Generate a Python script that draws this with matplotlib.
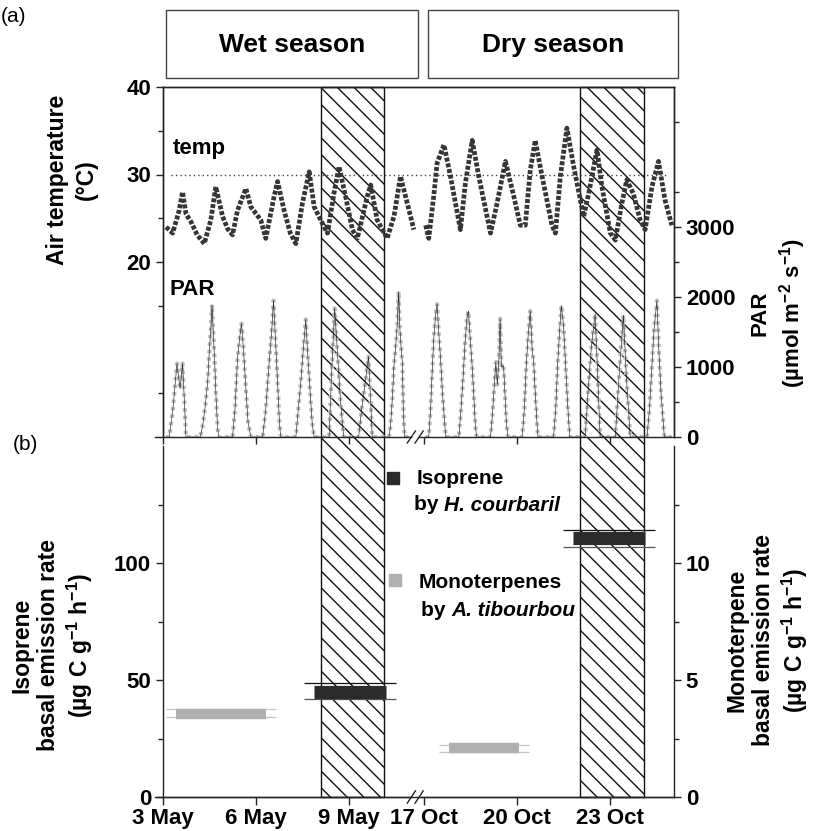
import matplotlib
matplotlib.use('Agg')
import matplotlib.pyplot as plt
import matplotlib.transforms as mtransforms
from matplotlib.patches import Rectangle
import numpy as np

plt.rcParams['font.family'] = ['Liberation Sans', 'DejaVu Sans']
plt.rcParams['font.weight'] = 'bold'
plt.rcParams['axes.labelweight'] = 'bold'
plt.rcParams['mathtext.fontset'] = 'custom'
plt.rcParams['mathtext.rm'] = 'Liberation Sans:bold'
plt.rcParams['mathtext.bf'] = 'Liberation Sans:bold'
plt.rcParams['mathtext.default'] = 'bf'
plt.rcParams['hatch.linewidth'] = 1.0

# ---- data (time = decimal day of month) ----
temp_may_t = [3.10, 3.31, 3.45, 3.52, 3.63, 3.74, 3.90, 4.10, 4.33, 4.54, 4.70, 4.92,
              5.08, 5.24, 5.40, 5.67, 5.83, 6.15, 6.31, 6.58, 6.69, 6.90, 7.10, 7.28,
              7.49, 7.71, 7.87, 8.19, 8.30, 8.51, 8.67, 8.88, 9.10, 9.26, 9.58, 9.69,
              9.90, 10.22, 10.44, 10.65, 10.87, 11.08]
temp_may = [24.0, 23.3, 25.0, 25.9, 28.0, 25.5, 24.6, 23.1, 22.1, 24.8, 28.6, 25.2,
            23.8, 23.1, 25.9, 28.4, 26.3, 24.8, 22.7, 27.5, 29.2, 25.9, 23.3, 22.1,
            26.7, 30.3, 26.3, 24.0, 23.3, 27.9, 30.9, 27.5, 23.7, 22.7, 27.5, 28.8,
            24.8, 22.7, 25.2, 29.8, 26.7, 23.7]
temp_oct_t = [17.06, 17.16, 17.32, 17.43, 17.65, 17.86, 18.18, 18.34, 18.56, 18.77,
              19.15, 19.36, 19.63, 19.90, 20.11, 20.27, 20.43, 20.59, 20.81, 21.13,
              21.24, 21.40, 21.61, 21.83, 22.15, 22.31, 22.58, 22.74, 23.01, 23.17,
              23.38, 23.54, 23.75, 23.97, 24.13, 24.35, 24.56, 24.77, 24.99]
temp_oct = [24.2, 22.7, 27.5, 31.3, 33.4, 29.8, 23.7, 29.0, 33.9, 29.8,
            23.3, 26.7, 31.5, 27.5, 24.2, 24.2, 30.5, 33.9, 29.8, 24.2,
            23.3, 29.8, 35.3, 30.9, 25.2, 27.8, 32.8, 28.6, 23.3, 22.5,
            26.7, 29.4, 27.8, 24.8, 23.7, 28.6, 31.5, 27.1, 24.2]

par_may_t = [3.10, 3.20, 3.32, 3.45, 3.55, 3.63, 3.69, 3.74,
             4.20, 4.28, 4.35, 4.44, 4.49, 4.54, 4.58, 4.62, 4.67, 4.71, 4.76, 4.80,
             5.24, 5.32, 5.40, 5.49, 5.53, 5.59, 5.67, 5.74, 5.83,
             6.21, 6.31, 6.42, 6.50, 6.56, 6.61, 6.69, 6.75, 6.79,
             7.28, 7.35, 7.44, 7.52, 7.60, 7.65, 7.74, 7.81, 7.87,
             8.35, 8.43, 8.53, 8.62, 8.72, 8.82,
             9.30, 9.40, 9.52, 9.62, 9.68, 9.74,
             10.28, 10.33, 10.39, 10.44, 10.49, 10.55, 10.59, 10.63, 10.68, 10.71,
             10.74, 10.78, 11.05]
par_may = [0, 0, 400, 1050, 690, 1050, 500, 0,
           0, 170, 400, 790, 1210, 1550, 1890, 1500, 1020, 550, 120, 0,
           0, 400, 1120, 1500, 1620, 1260, 690, 210, 0,
           0, 400, 1070, 1500, 1950, 1500, 790, 210, 0,
           0, 360, 790, 1260, 1680, 1260, 640, 170, 0,
           0, 900, 1840, 1200, 500, 0,
           0, 400, 800, 1150, 600, 0,
           0, 170, 570, 1020, 1260, 1640, 2080, 1550, 1210, 1070,
           400, 0, 0]
par_oct_t = [17.06, 17.16, 17.22, 17.27, 17.32, 17.38, 17.43, 17.48, 17.54, 17.60, 17.67, 17.71,
             18.13, 18.20, 18.27, 18.33, 18.40, 18.44, 18.48, 18.55, 18.61, 18.66, 18.70,
             19.15, 19.21, 19.28, 19.32, 19.37, 19.42, 19.46, 19.50, 19.57, 19.66, 19.71,
             20.17, 20.24, 20.30, 20.37, 20.43, 20.49, 20.54, 20.59, 20.65, 20.68,
             21.18, 21.25, 21.31, 21.38, 21.43, 21.50, 21.57, 21.63, 21.70,
             22.20, 22.30, 22.40, 22.52, 22.60, 22.68,
             23.17, 23.28, 23.43, 23.52, 23.65,
             24.19, 24.27, 24.35, 24.42, 24.51, 24.57, 24.64, 24.72, 24.75, 24.99]
par_oct = [0, 0, 400, 930, 1400, 1740, 1900, 1500, 1120, 640, 210, 0,
           0, 400, 880, 1360, 1740, 1800, 1500, 1070, 600, 170, 0,
           0, 310, 790, 1070, 750, 1120, 1690, 1000, 1020, 210, 0,
           0, 400, 1020, 1500, 1800, 1260, 1070, 640, 170, 0,
           0, 400, 1020, 1550, 1880, 1600, 1020, 500, 0,
           0, 700, 1300, 1760, 900, 0,
           0, 800, 1740, 900, 0,
           0, 400, 1020, 1550, 1950, 1260, 640, 170, 0, 0]

# hatched periods
shade_month = ['May', 'Oct']
shade_start = [8.08, 22.04]
shade_end = [10.11, 24.10]

# basal emission rates
iso_month = ['May', 'Oct']
iso_start = [7.86, 21.81]
iso_end = [10.17, 24.13]
iso_rate = [45.0, 111.0]
iso_hi = [48.6, 114.4]
iso_lo = [41.8, 107.0]

mono_month = ['May', 'Oct']
mono_start = [3.42, 17.81]
mono_end = [6.31, 20.06]
mono_rate = [3.57, 2.08]
mono_hi = [3.75, 2.22]
mono_lo = [3.43, 1.94]

tick_days = [3, 6, 9, 17, 20, 23]
tick_months = ['May', 'May', 'May', 'Oct', 'Oct', 'Oct']

# broken time axis: 3 May -> 0, 17 Oct -> 8.4
OCT_AT = 8.4
XMAX = 16.46
BRK = (8.0, 8.25)
TICK_FS = 16


def xpos(day, month):
    day = np.asarray(day, dtype=float)
    if month == 'May':
        return day - 3.0
    return day - 17.0 + OCT_AT


def fx(px):
    return px / 814.0


def fy(py):
    return 1.0 - py / 831.0


fig = plt.figure(figsize=(8.14, 8.31), dpi=100)
ax_t = fig.add_axes([fx(163), fy(437), fx(674) - fx(163), fy(87) - fy(437)])
ax_b = fig.add_axes([fx(163), fy(797), fx(674) - fx(163), fy(437) - fy(797)])
ax_p = ax_t.twinx()
ax_m = ax_b.twinx()
for a in (ax_t, ax_b, ax_p, ax_m):
    a.set_facecolor('none')
    a.set_xlim(0, XMAX)
    for s in a.spines.values():
        s.set_linewidth(1.0)
        s.set_color('#222222')
    a.tick_params(direction='out', width=1.0, length=5, labelsize=TICK_FS, color='#222222')
    a.tick_params(which='minor', direction='out', width=1.0, length=3.5, color='#222222')

# hatched periods spanning both panels
blend = mtransforms.blended_transform_factory(ax_b.transData, fig.transFigure)
y0 = fy(797)
y1 = fy(87)
for m, s, e in zip(shade_month, shade_start, shade_end):
    x0 = float(xpos(s, m))
    x1 = float(xpos(e, m))
    r = Rectangle((x0, y0), x1 - x0, y1 - y0, transform=blend, fill=False,
                  hatch='\\\\', edgecolor='#111111', lw=1.0, zorder=-1)
    fig.add_artist(r)

# ---- panel (a) ----
ax_t.set_ylim(0, 40)
ax_t.set_yticks([20, 30, 40])
ax_t.set_yticks([5, 15, 25, 35], minor=True)
ax_p.set_ylim(0, 5000)
ax_p.set_yticks([0, 1000, 2000, 3000])
ax_p.set_yticks([500, 1500, 2500, 3500, 4500], minor=True)

ax_t.axhline(30, xmin=0.015, xmax=0.985, color='#444444', lw=1.0, ls=(0, (1, 2.2)))

for tt, vv, m in ((par_may_t, par_may, 'May'), (par_oct_t, par_oct, 'Oct')):
    x = xpos(tt, m)
    ax_p.plot(x, vv, color='#bdbdbd', lw=3.0, ls=(0, (0.8, 1.0)), zorder=2)
    ax_p.plot(x, vv, color='#222222', lw=0.45, zorder=3)

for tt, vv, m in ((temp_may_t, temp_may, 'May'), (temp_oct_t, temp_oct, 'Oct')):
    x = xpos(tt, m)
    ax_t.plot(x, vv, color='#363636', lw=3.4, ls=(0, (0.85, 0.38)), zorder=3)

ax_t.text(0.33, 33.0, 'temp', fontsize=16, va='center')
ax_t.text(0.22, 16.9, 'PAR', fontsize=16, va='center')

ax_t.set_ylabel('Air temperature\n(°C)', fontsize=16.5, linespacing=1.3)
ax_p.set_ylabel('PAR\n(µmol m$^{-2}$ s$^{-1}$)', fontsize=16, linespacing=1.3)

# ---- panel (b) ----
ax_b.set_ylim(0, 154)
ax_b.set_yticks([0, 50, 100])
ax_b.set_yticks([25, 75, 125], minor=True)
ax_m.set_ylim(0, 15.4)
ax_m.set_yticks([0, 5, 10])
ax_m.set_yticks([2.5, 7.5, 12.5], minor=True)
ax_b.spines['top'].set_visible(False)
ax_m.spines['top'].set_visible(False)
ax_b.spines['left'].set_bounds(0, 150)
ax_b.spines['right'].set_visible(False)
ax_m.spines['right'].set_bounds(0, 15)
ax_m.spines['left'].set_visible(False)
ax_t.spines['bottom'].set_visible(False)
ax_p.spines['bottom'].set_visible(False)

over = 0.32
for m, s, e, v, hi, lo in zip(iso_month, iso_start, iso_end, iso_rate, iso_hi, iso_lo):
    xs = float(xpos(s, m))
    xe = float(xpos(e, m))
    ax_b.hlines([hi, lo], xs - over, xe + over, colors=['#111111', '#555555'], lw=0.9, zorder=3)
    ax_b.hlines(v, xs, xe, colors='#2b2b2b', lw=9.5, zorder=4)
for m, s, e, v, hi, lo in zip(mono_month, mono_start, mono_end, mono_rate, mono_hi, mono_lo):
    xs = float(xpos(s, m))
    xe = float(xpos(e, m))
    ax_m.hlines([hi, lo], xs - over, xe + over, colors='#c4c4c4', lw=0.9, zorder=3)
    ax_m.hlines(v, xs, xe, colors='#b0b0b0', lw=7.5, zorder=4)

ax_b.set_ylabel('Isoprene\nbasal emission rate\n(µg C g$^{-1}$ h$^{-1}$)', fontsize=16.5,
                linespacing=1.2)
ax_m.set_ylabel('Monoterpene\nbasal emission rate\n(µg C g$^{-1}$ h$^{-1}$)', fontsize=16.5,
                linespacing=1.2)

# label centres (axes fractions)
for a, cx, cy in ((ax_t, -0.178, 0.734), (ax_p, 1.205, 0.354),
                  (ax_b, -0.216, 0.421), (ax_m, 1.184, 0.435)):
    a.yaxis.set_label_coords(cx, cy)
    a.yaxis.label.set_verticalalignment('center')
    a.yaxis.label.set_horizontalalignment('center')

# x axis, with break
xt = [float(xpos(d, m)) for d, m in zip(tick_days, tick_months)]
for a in (ax_t, ax_b, ax_p, ax_m):
    a.set_xticks(xt)
ax_t.tick_params(axis='x', labelbottom=False)
ax_p.tick_params(axis='x', labelbottom=False)
ax_m.tick_params(axis='x', labelbottom=False)
ax_b.spines['bottom'].set_visible(False)
ax_b.set_xticklabels([f'{d} {m}' for d, m in zip(tick_days, tick_months)], fontsize=TICK_FS)
ax_b.tick_params(axis='x', pad=2, length=6)

for a, dy in ((ax_t, 0.017), (ax_b, 0.017)):
    tr = mtransforms.blended_transform_factory(a.transData, a.transAxes)
    a.plot([-0.25, BRK[0]], [0, 0], transform=tr, color='#222222', lw=1.0, clip_on=False)
    a.plot([BRK[1], XMAX], [0, 0], transform=tr, color='#222222', lw=1.0, clip_on=False)
    for xb in BRK:
        a.plot([xb - 0.13, xb + 0.13], [-dy, dy], transform=tr, color='#222222',
               lw=1.0, clip_on=False)

# legend
fig.add_artist(plt.Line2D([fx(393)], [fy(478)], marker='s', ms=9, color='#2b2b2b', ls='none'))
fig.add_artist(plt.Line2D([fx(395)], [fy(580)], marker='s', ms=9, color='#b0b0b0', ls='none'))
fig.text(fx(417), fy(478), 'Isoprene', fontsize=15, va='center')
t1 = fig.text(fx(414), fy(505), 'by ', fontsize=15, va='center')
fig.text(fx(419), fy(582), 'Monoterpenes', fontsize=15, va='center')
t2 = fig.text(fx(421), fy(610), 'by ', fontsize=15, va='center')
ax_b.annotate('H. courbaril', xy=(1, 0.5), xycoords=t1, va='center', fontsize=15,
              style='italic')
ax_b.annotate('A. tibourbou', xy=(1, 0.5), xycoords=t2, va='center', fontsize=15,
              style='italic')

# season boxes
for (l, r), lab in (((166, 418), 'Wet season'), ((428, 678), 'Dry season')):
    fig.add_artist(Rectangle((fx(l), fy(78)), fx(r) - fx(l), fy(10) - fy(78),
                             transform=fig.transFigure, fill=False,
                             edgecolor='#444444', lw=1.0))
    fig.text(fx((l + r) / 2), fy(45), lab, fontsize=19, ha='center', va='center')

fig.text(fx(1), fy(17), '(a)', fontsize=15, fontweight='normal', va='center')
fig.text(fx(13), fy(444), '(b)', fontsize=15, fontweight='normal', va='center')

fig.savefig('out.png', dpi=100)
